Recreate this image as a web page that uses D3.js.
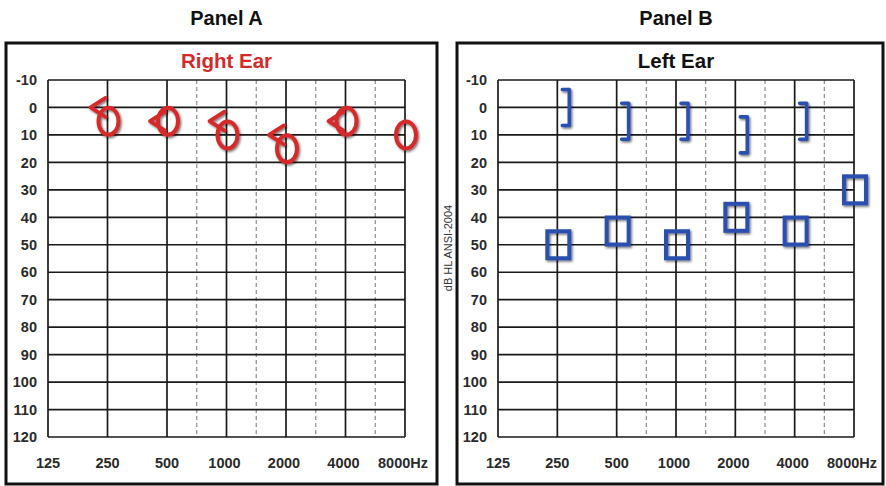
<!DOCTYPE html>
<html>
<head>
<meta charset="utf-8">
<script src="https://cdn.jsdelivr.net/npm/d3@7"></script>
<style>
  body { margin: 0; background: #fff; }
  svg { display: block; }
</style>
</head>
<body>
<svg id="chart" width="886" height="486"></svg>
<script>
// Audiogram frequency columns (Hz) and hearing-level rows (dB HL)
const freqTicks = [125, 250, 500, 1000, 2000, 4000, 8000];
const freqLabels = ["125", "250", "500", "1000", "2000", "4000", "8000"];
const interFreqs = [750, 1500, 3000, 6000];
const dbTicks = [-10, 0, 10, 20, 30, 40, 50, 60, 70, 80, 90, 100, 110, 120];

// Panel A – right ear
const rightAirFreq = [250, 500, 1000, 2000, 4000, 8000];
const rightAirDb = [5, 5, 10, 15, 5, 10];          // "O" unmasked air conduction
const rightBoneFreq = [250, 500, 1000, 2000, 4000];
const rightBoneDb = [0, 5, 5, 10, 5];              // "<" unmasked bone conduction

// Panel B – left ear
const leftBoneFreq = [250, 500, 1000, 2000, 4000];
const leftBoneDb = [0, 5, 5, 10, 5];               // "]" masked bone conduction
const leftAirFreq = [250, 500, 1000, 2000, 4000, 8000];
const leftAirDb = [50, 45, 50, 40, 45, 30];        // square masked air conduction

const RED = "#d62a2a";
const BLUE = "#2b4fae";
const INK = "#1a1a1a";
const FONT = "'Liberation Sans', Arial, sans-serif";

const svg = d3.select("#chart");

const defs = svg.append("defs");
defs.append("filter").attr("id", "symShadow")
  .attr("x", "-40%").attr("y", "-40%").attr("width", "180%").attr("height", "180%")
  .append("feDropShadow")
  .attr("dx", 1.3).attr("dy", 1.5).attr("stdDeviation", 0.9)
  .attr("flood-color", "#000").attr("flood-opacity", 0.55);

// Snap half-octave frequencies (750, 1500 …) to the mid-column of the audiogram
const column = f => 125 * Math.pow(2, Math.round(2 * Math.log2(f / 125)) / 2);

const y = d3.scaleLinear().domain([-10, 120]).range([80, 437]);

function drawPanel(cfg) {
  const x = d3.scaleLog().base(2).domain([125, 8000]).range([cfg.left, cfg.right]);
  const g = svg.append("g");

  // outer frame
  g.append("rect")
    .attr("x", cfg.boxX).attr("y", 43)
    .attr("width", cfg.boxW).attr("height", 441)
    .attr("fill", "none").attr("stroke", "#111").attr("stroke-width", 3);

  // panel heading and ear title
  g.append("text")
    .attr("x", (cfg.left + cfg.right) / 2).attr("y", 25)
    .attr("text-anchor", "middle")
    .attr("font-family", FONT).attr("font-weight", "bold").attr("font-size", 20)
    .attr("fill", "#111").text(cfg.panel);
  g.append("text")
    .attr("x", (cfg.left + cfg.right) / 2).attr("y", 68)
    .attr("text-anchor", "middle")
    .attr("font-family", FONT).attr("font-weight", "bold").attr("font-size", 20.5)
    .attr("fill", cfg.titleColor).text(cfg.title);

  // half-octave dashed columns
  g.selectAll(".dash").data(interFreqs).join("line")
    .attr("x1", d => x(column(d))).attr("x2", d => x(column(d)))
    .attr("y1", y(-10)).attr("y2", y(120))
    .attr("stroke", "#8a8a8a").attr("stroke-width", 1.2)
    .attr("stroke-dasharray", "4,3");

  // horizontal dB rows
  g.selectAll(".hrow").data(dbTicks).join("line")
    .attr("x1", cfg.left).attr("x2", cfg.right)
    .attr("y1", d => y(d)).attr("y2", d => y(d))
    .attr("stroke", INK).attr("stroke-width", 1.7);

  // octave columns
  g.selectAll(".vcol").data(freqTicks).join("line")
    .attr("x1", d => x(d)).attr("x2", d => x(d))
    .attr("y1", y(-10)).attr("y2", y(120))
    .attr("stroke", INK).attr("stroke-width", 1.7);

  // dB labels
  g.selectAll(".ylab").data(dbTicks).join("text")
    .attr("x", cfg.left - 11).attr("y", d => y(d)).attr("dy", "0.36em")
    .attr("text-anchor", "end")
    .attr("font-family", FONT).attr("font-weight", "bold").attr("font-size", 14.5)
    .attr("fill", "#2a2a2a").text(d => d);

  // frequency labels
  g.selectAll(".xlab").data(freqTicks).join("text")
    .attr("x", (d, i) => x(d) - (freqLabels[i].length > 3 ? 2 : 0))
    .attr("y", 468)
    .attr("text-anchor", "middle")
    .attr("font-family", FONT).attr("font-weight", "bold").attr("font-size", 14.5)
    .attr("fill", "#2a2a2a")
    .text((d, i) => freqLabels[i] + (i === freqTicks.length - 1 ? "Hz" : ""));

  return { g, x };
}

// ---------- Panel A ----------
const A = drawPanel({
  panel: "Panel A", title: "Right Ear", titleColor: RED,
  left: 48, right: 405, boxX: 6, boxW: 431
});

const marksA = A.g.append("g").attr("filter", "url(#symShadow)");
marksA.selectAll(".bone").data(rightBoneFreq.map((f, i) => [f, rightBoneDb[i]])).join("path")
  .attr("d", d => {
    const cx = A.x(d[0]), cy = y(d[1]);
    return `M${cx - 2},${cy - 9.5} L${cx - 17},${cy} L${cx - 2},${cy + 9.5}`;
  })
  .attr("fill", "none").attr("stroke", RED).attr("stroke-width", 3.8)
  .attr("stroke-linejoin", "round").attr("stroke-linecap", "round");
marksA.selectAll(".air").data(rightAirFreq.map((f, i) => [f, rightAirDb[i]])).join("ellipse")
  .attr("cx", d => A.x(d[0]) + 1).attr("cy", d => y(d[1]))
  .attr("rx", 10).attr("ry", 13.5)
  .attr("fill", "none").attr("stroke", RED).attr("stroke-width", 4);

// ---------- Panel B ----------
const B = drawPanel({
  panel: "Panel B", title: "Left Ear", titleColor: "#111",
  left: 498, right: 854, boxX: 457, boxW: 426
});

svg.append("text")
  .attr("transform", "translate(452,248) rotate(-90)")
  .attr("text-anchor", "middle")
  .attr("font-family", FONT).attr("font-size", 11)
  .attr("fill", "#333").text("dB HL ANSI-2004");

const marksB = B.g.append("g").attr("filter", "url(#symShadow)");
marksB.selectAll(".bone").data(leftBoneFreq.map((f, i) => [f, leftBoneDb[i]])).join("path")
  .attr("d", d => {
    const cx = B.x(d[0]), cy = y(d[1]);
    return `M${cx + 5},${cy - 18} L${cx + 12},${cy - 18} L${cx + 12},${cy + 18} L${cx + 5},${cy + 18}`;
  })
  .attr("fill", "none").attr("stroke", BLUE).attr("stroke-width", 3.6)
  .attr("stroke-linejoin", "round").attr("stroke-linecap", "round");
marksB.selectAll(".air").data(leftAirFreq.map((f, i) => [f, leftAirDb[i]])).join("rect")
  .attr("x", d => B.x(d[0]) + 1 - 11).attr("y", d => y(d[1]) - 13.5)
  .attr("width", 22).attr("height", 27)
  .attr("fill", "none").attr("stroke", BLUE).attr("stroke-width", 4);
</script>
</body>
</html>
